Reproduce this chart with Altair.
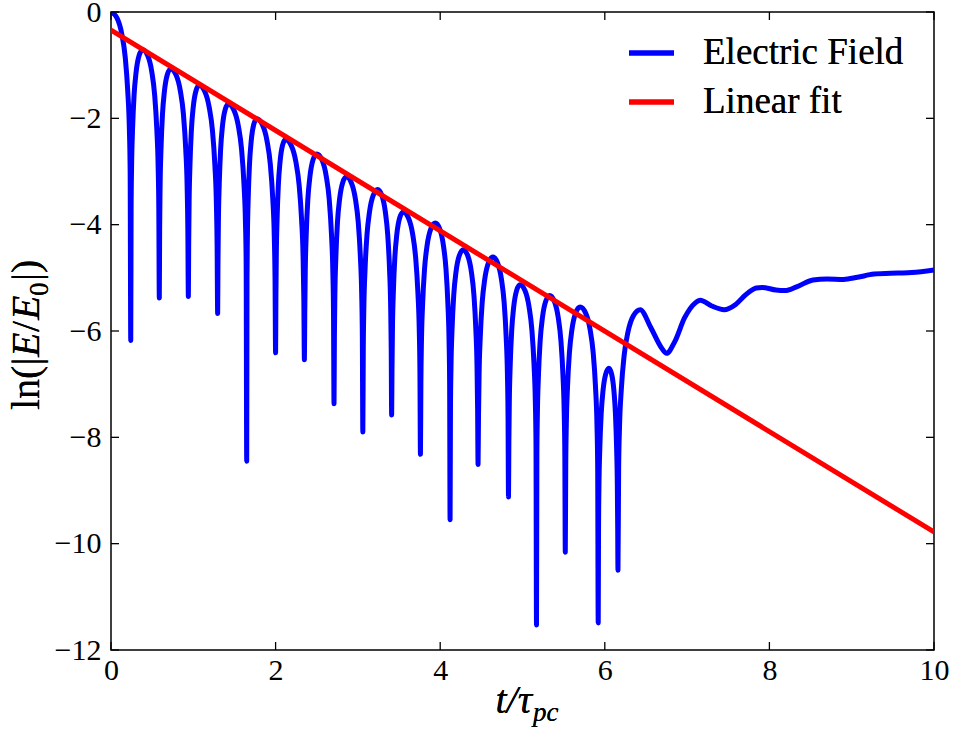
import altair as alt
import pandas as pd

# ---- data -------------------------------------------------------------
# local maxima of ln|E/E0| (time in units of tau_pc)
PEAK_T = [0.0, 0.385, 0.725, 1.07, 1.425, 1.77, 2.12, 2.50, 2.86, 3.24,
          3.55, 3.94, 4.28, 4.64, 4.97, 5.33, 5.70, 6.05, 6.43]
PEAK_LNE = [0.0, -0.71, -1.07, -1.38, -1.73, -2.01, -2.40, -2.67, -3.10, -3.34,
            -3.76, -3.97, -4.47, -4.61, -5.13, -5.33, -5.55, -6.70, -5.60]
# sharp minima (zero crossings of the field) between the maxima
DIP_T = [0.24, 0.587, 0.94, 1.296, 1.649, 2.00, 2.35, 2.71, 3.06,
         3.41, 3.76, 4.12, 4.46, 4.83, 5.17, 5.52, 5.92, 6.16]
DIP_LNE = [-6.18, -5.38, -5.35, -5.67, -8.45, -6.41, -6.54, -7.37, -7.90,
           -7.58, -8.32, -9.55, -8.51, -9.12, -11.53, -10.16, -11.49, -10.50]
# shape of a lobe: fraction of the way from a maximum to the next minimum,
# and how far below the maximum the curve sits there
LOBE_FRAC = [0.30, 0.55, 0.72, 0.85, 0.93, 0.97]
LOBE_DROP = [-0.11, -0.42, -0.85, -1.50, -2.20, -3.00]
# late-time, non-oscillating part of the record
TAIL_T = [6.56, 6.69, 6.75, 6.85, 6.97, 7.10, 7.16, 7.30, 7.45, 7.59, 7.71,
          7.84, 7.91, 8.08, 8.19, 8.33, 8.53, 8.70, 8.90, 9.07, 9.27, 9.56,
          9.73, 10.0]
TAIL_LNE = [-5.94, -6.32, -6.42, -6.20, -5.75, -5.47, -5.42, -5.53, -5.60,
            -5.50, -5.32, -5.19, -5.18, -5.23, -5.24, -5.17, -5.04, -5.02,
            -5.03, -4.99, -4.93, -4.91, -4.90, -4.85]
# straight-line fit of the envelope
FIT_T = [0.0, 10.0]
FIT_LNE = [-0.34, -9.78]

SERIES = ["Electric Field", "Linear fit"]
COLORS = ["#0000ff", "#ff0000"]
X_TICKS = [0, 2, 4, 6, 8, 10]
Y_TICKS = [0, -2, -4, -6, -8, -10, -12]


def half_lobe(tp, yp, td, yd, toward_dip=True):
    pts = []
    for f, d in zip(LOBE_FRAC, LOBE_DROP):
        if yp + d > yd + 0.3:
            pts.append((tp + f * (td - tp), yp + d))
    return pts if toward_dip else pts[::-1]


pts = []
n = len(PEAK_T)
for i in range(n):
    tp, yp = PEAK_T[i], PEAK_LNE[i]
    if i > 0:
        pts += half_lobe(tp, yp, DIP_T[i - 1], DIP_LNE[i - 1], toward_dip=False)
    pts.append((tp, yp))
    if i < len(DIP_T):
        pts += half_lobe(tp, yp, DIP_T[i], DIP_LNE[i], toward_dip=True)
        pts.append((DIP_T[i], DIP_LNE[i]))
pts += list(zip(TAIL_T, TAIL_LNE))

field_df = pd.DataFrame(pts, columns=["t", "lnE"])
fit_df = pd.DataFrame({"t": FIT_T, "lnE": FIT_LNE})

# ---- layout -----------------------------------------------------------
W, H = 823, 638
FONT = "Liberation Serif"
TICK = 8

xs = alt.Scale(domain=[0, 10], nice=False, zero=False)
ys = alt.Scale(domain=[-12, 0], nice=False, zero=False)

x_axis = alt.Axis(values=X_TICKS, ticks=False, domain=False, grid=False,
                  labelFont=FONT, labelFontSize=30, labelPadding=5,
                  labelFlush=False, labelColor="black", title=None)
y_axis = alt.Axis(values=Y_TICKS, ticks=False, domain=False, grid=False,
                  labelFont=FONT, labelFontSize=30, labelPadding=10,
                  labelFlush=False, labelColor="black", title=None)

X = lambda f: alt.X(f, type="quantitative", scale=xs, axis=x_axis)
Y = lambda f: alt.Y(f, type="quantitative", scale=ys, axis=y_axis)

field = alt.Chart(field_df).mark_line(
    color=COLORS[0], strokeWidth=5, strokeJoin="round",
    interpolate="monotone", clip=True
).encode(x=X("t"), y=Y("lnE"))

fit = alt.Chart(fit_df).mark_line(
    color=COLORS[1], strokeWidth=5, clip=True
).encode(x=X("t"), y=Y("lnE"))

# inward tick marks on all four sides
xt = pd.DataFrame({"t": X_TICKS})
yt = pd.DataFrame({"v": Y_TICKS})
tick_style = dict(color="black", strokeWidth=1.3)
ticks_bottom = alt.Chart(xt).mark_rule(**tick_style).encode(
    x=X("t"), y=alt.value(H), y2=alt.value(H - TICK))
ticks_top = alt.Chart(xt).mark_rule(**tick_style).encode(
    x=X("t"), y=alt.value(0), y2=alt.value(TICK))
ticks_left = alt.Chart(yt).mark_rule(**tick_style).encode(
    y=Y("v"), x=alt.value(0), x2=alt.value(TICK))
ticks_right = alt.Chart(yt).mark_rule(**tick_style).encode(
    y=Y("v"), x=alt.value(W), x2=alt.value(W - TICK))

# legend (no frame), upper right
legend_layers = []
for k, (name, col) in enumerate(zip(SERIES, COLORS)):
    yk = 41 + 49 * k
    legend_layers.append(
        alt.Chart(fit_df).mark_rule(color=col, strokeWidth=5).encode(
            x=alt.value(518), x2=alt.value(563), y=alt.value(yk)))
    legend_layers.append(
        alt.Chart(fit_df).mark_text(
            font=FONT, fontSize=37, align="left", baseline="alphabetic",
            color="black", text=name
        ).encode(x=alt.value(592), y=alt.value(yk + 11)))

# axis titles, built from pieces so the symbols can be italic / subscripted
def txt(s, x, y, size=40, style="normal", angle=0, align="left"):
    return alt.Chart(fit_df).mark_text(
        font=FONT, fontSize=size, fontStyle=style, align=align,
        baseline="alphabetic", color="black", text=s, angle=angle
    ).encode(x=alt.value(x), y=alt.value(y))

x_title = [
    txt("t/τ", 421, 701, style="italic", align="right"),
    txt("pc", 422, 709, size=27, style="italic"),
]

# y title "ln(|E/E0|)" rotated, reading upward
pieces = [("ln(|", 40, "normal", 0, 53), ("E", 40, "italic", 0, 25),
          ("/", 40, "normal", 0, 12), ("E", 40, "italic", 0, 24),
          ("0", 27, "normal", 9, 15), ("|)", 40, "normal", 0, 21)]
total = sum(p[4] for p in pieces)
ypos = 323 + total / 2
y_title = []
for s, size, style, shift, adv in pieces:
    y_title.append(txt(s, -72 + shift, ypos, size=size, style=style, angle=270))
    ypos -= adv

chart = alt.layer(
    field, fit, ticks_bottom, ticks_top, ticks_left, ticks_right,
    *legend_layers, *x_title, *y_title
).properties(
    width=W, height=H,
    autosize=alt.AutoSizeParams(type="none"),
    padding={"left": 111, "top": 12, "right": 22, "bottom": 81},
).configure_view(
    stroke="black", strokeWidth=1.5
)

chart.save("out.html", embed_options={"renderer": "svg", "actions": False})
